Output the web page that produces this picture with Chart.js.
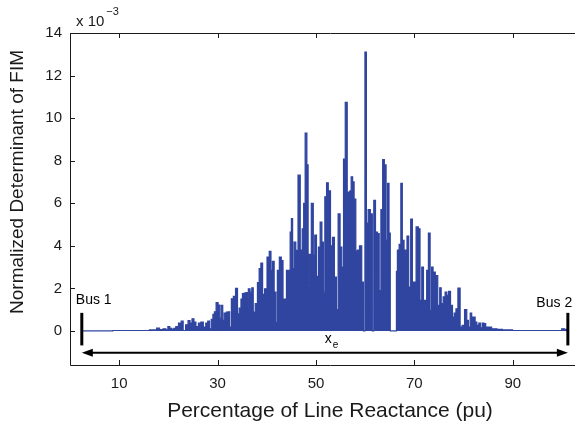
<!DOCTYPE html>
<html><head><meta charset="utf-8">
<script src="https://cdn.jsdelivr.net/npm/chart.js@4"></script>
<style>html,body{margin:0;padding:0;background:#fff;overflow:hidden;width:575px;height:427px}canvas{display:block}</style>
</head><body>
<canvas id="c" width="592" height="427" style="width:592px;height:427px"></canvas>
<script>
// Percentage of line reactance (x) and normalized determinant of FIM (values in units of 1e-3)
const xPercent = [2.4,15,17.3,17.9,18.5,19.3,19.7,20.1,20.5,20.9,21.3,21.7,22.4,22.8,23.2,23.8,24.2,24.6,25.0,25.4,25.8,26.4,26.8,27.4,27.8,28.2,28.5,28.9,29.2,29.5,29.9,30.3,30.6,30.9,31.2,31.5,32.0,32.3,32.6,33.0,33.4,33.9,34.2,34.6,34.9,35.2,35.6,35.9,36.1,36.4,36.8,37.1,37.4,37.9,38.3,38.6,39.0,39.3,39.8,40.3,40.7,41.0,41.3,41.7,42.0,42.3,42.8,43.1,43.5,43.8,44.2,44.6,44.9,45.1,45.4,45.7,46.1,46.6,47.0,47.4,47.6,48.0,48.3,48.5,48.8,49.3,49.6,49.9,50.3,50.7,51.0,51.4,51.6,52.0,52.3,52.7,53.2,53.5,54.0,54.3,54.7,55.1,55.4,55.8,56.1,56.6,56.8,57.0,57.3,57.6,57.9,58.3,58.6,59.1,59.5,59.8,60.1,60.4,60.8,61.3,61.6,61.9,62.3,62.7,63.0,63.4,63.7,64.1,64.4,64.7,65.0,65.2,66.3,66.4,66.7,67.1,67.4,67.7,68.1,68.4,68.6,69.1,69.4,69.8,70.1,70.6,71.0,71.3,71.7,72.0,72.3,72.7,73.0,73.4,73.6,74.0,74.5,75.0,75.3,75.6,76.1,76.4,76.8,77.1,77.6,77.9,78.3,78.6,79.1,79.5,79.9,80.5,80.8,81.2,81.5,81.8,82.2,82.5,82.9,83.3,83.7,84.0,84.3,84.7,85.2,86.2,87.4,88.4,91.5,99.6,100.3,100.7,101.2];
const fimDet = [0,0.02,0.05,0.13,0.06,0.1,0.05,0.2,0.12,0.07,0.12,0.2,0.37,0.46,0.02,0.29,0.49,0.37,0.57,0.42,0.2,0.37,0.42,0.18,0.37,0.46,0.1,0.55,0.78,0.9,1.33,1.22,0.6,1.2,0.5,0.84,0.89,0.9,0.18,1.51,1.62,2.0,0.8,1.07,1.5,1.75,1.78,1.8,1.04,1.98,1.82,2.03,0.89,1.28,2.27,2.93,3.19,1.72,1.98,3.47,3.74,2.85,3.27,1.83,0.4,2.85,3.47,3.3,1.5,1.5,2.85,2.85,4.65,5.28,2.93,4.18,3.79,7.32,3.8,4.8,6.0,9.3,7.8,1.9,3.6,6.0,3.55,4.5,2.56,3.94,5.12,4.18,1.82,6.3,6.96,6.58,4.0,4.4,2.53,1.0,5.5,3.94,3.0,8.07,10.74,6.53,4.9,6.58,7.24,7.0,6.2,3.76,3.8,4.0,2.3,0,13.1,5.07,5.7,5.5,0,6.14,4.65,4.57,1.9,5.7,8.05,7.8,4.26,6.93,4.6,0,0,2.8,3.8,4.07,6.93,4.26,3.8,3.7,4.46,2.06,5.25,2.3,2.3,4.89,4.8,1.44,3.0,1.44,1.44,2.85,4.6,0.96,3.0,2.77,2.6,1.2,2.03,1.28,1.6,1.83,1.67,1.86,1.2,0.65,0.84,1.04,2.01,0.18,0.26,1.0,0.5,0.18,0.84,0.65,0.65,0.42,0.26,0.37,0.15,0.37,0.34,0.18,0.18,0.1,0.07,0.05,0.02,0.02,0.1,0.08,0];
const xTickValues = [10,30,50,70,90];
const yTickValues = [0,2,4,6,8,10,12,14];
const busPositions = [2.4,101.2];
const busLabels = ['Bus 1','Bus 2'];
const xRange = [0,105.7];
const yRange = [-1.6,14];
const yTitle = 'Normalized Determinant of FIM';
const xTitle = 'Percentage of Line Reactance (pu)';

const FONT = '"Liberation Sans", Arial, Helvetica, sans-serif';
const INK = '#1a1a1a';
const points = xPercent.map((x,i)=>({x:x,y:fimDet[i]}));

const decor = {
  id:'decor',
  afterDraw(chart){
    const ctx = chart.ctx, ca = chart.chartArea, sx = chart.scales.x, sy = chart.scales.y;
    ctx.save();
    ctx.strokeStyle = INK; ctx.lineWidth = 1;
    ctx.beginPath();
    ctx.moveTo(ca.left+0.5, ca.bottom+0.5); ctx.lineTo(ca.left+0.5, ca.top+0.5); ctx.lineTo(ca.right+0.5, ca.top+0.5);
    ctx.moveTo(ca.left+0.5, ca.bottom+0.5); ctx.lineTo(ca.right+0.5, ca.bottom+0.5); ctx.lineTo(ca.right+0.5, ca.top+0.5);
    xTickValues.forEach(v=>{const p=Math.round(sx.getPixelForValue(v))+0.5; ctx.moveTo(p,ca.bottom); ctx.lineTo(p,ca.bottom-5); ctx.moveTo(p,ca.top); ctx.lineTo(p,ca.top+5);});
    yTickValues.forEach(v=>{const p=Math.round(sy.getPixelForValue(v))+0.5; ctx.moveTo(ca.left,p); ctx.lineTo(ca.left+5,p); ctx.moveTo(ca.right,p); ctx.lineTo(ca.right-5,p);});
    ctx.stroke();
    // y axis title
    ctx.fillStyle = INK;
    ctx.save();
    ctx.translate(18, 182); ctx.rotate(-Math.PI/2);
    ctx.font = '19px '+FONT; ctx.textAlign='center'; ctx.textBaseline='middle';
    ctx.fillText(yTitle, 0, 0);
    ctx.restore();
    // exponent label
    ctx.textBaseline='alphabetic'; ctx.textAlign='left';
    ctx.font = '15px '+FONT;
    ctx.fillText('x 10', ca.left+6, ca.top-7);
    const w = ctx.measureText('x 10').width;
    ctx.font = '11px '+FONT;
    ctx.fillText('\u22123', ca.left+6+w+2, ca.top-18);
    // bus markers
    ctx.fillStyle = '#000'; ctx.strokeStyle = '#000';
    ctx.lineWidth = 3;
    const yTop = sy.getPixelForValue(0.85), yBot = sy.getPixelForValue(-0.68);
    busPositions.forEach(b=>{const p=sx.getPixelForValue(b); ctx.beginPath(); ctx.moveTo(p,yTop); ctx.lineTo(p,yBot); ctx.stroke();});
    ctx.font = '14px '+FONT;
    const b1 = sx.getPixelForValue(busPositions[0]), b2 = sx.getPixelForValue(busPositions[1]);
    ctx.fillText(busLabels[0], b1-6, sy.getPixelForValue(1.25));
    ctx.fillText(busLabels[1], b2-31.5, sy.getPixelForValue(1.12));
    // double arrow
    const ya = sy.getPixelForValue(-1.03);
    ctx.lineWidth = 2;
    ctx.beginPath(); ctx.moveTo(b1+8, ya); ctx.lineTo(b2-8, ya); ctx.stroke();
    ctx.beginPath(); ctx.moveTo(b1, ya); ctx.lineTo(b1+11, ya-4); ctx.lineTo(b1+11, ya+4); ctx.closePath(); ctx.fill();
    ctx.beginPath(); ctx.moveTo(b2, ya); ctx.lineTo(b2-11, ya-4); ctx.lineTo(b2-11, ya+4); ctx.closePath(); ctx.fill();
    // x_e
    const xm = sx.getPixelForValue((busPositions[0]+busPositions[1])/2);
    ctx.font = '14px '+FONT;
    ctx.fillText('x', xm, sy.getPixelForValue(-0.55));
    ctx.font = '10px '+FONT;
    ctx.fillText('e', xm+8, sy.getPixelForValue(-0.8));
    ctx.restore();
  }
};

new Chart(document.getElementById('c'), {
  type:'line',
  data:{datasets:[{data:points, stepped:'middle', fill:'origin', backgroundColor:'#3045a0', borderColor:'#3045a0', borderWidth:1.2, pointRadius:0, tension:0}]},
  options:{
    responsive:false, animation:false, devicePixelRatio:1,
    layout:{padding:{top:33,right:2,left:0,bottom:0}},
    plugins:{legend:{display:false}, tooltip:{enabled:false}},
    scales:{
      x:{type:'linear', min:xRange[0], max:xRange[1],
        afterBuildTicks(s){s.ticks = xTickValues.map(v=>({value:v}));},
        afterFit(s){s.height = 62;},
        grid:{display:false, drawTicks:false}, border:{display:false},
        ticks:{padding:10, color:INK, font:{family:FONT, size:15}, maxRotation:0, autoSkip:false},
        title:{display:true, text:xTitle, color:INK, font:{family:FONT, size:21}, padding:{top:0,bottom:3}}
      },
      y:{type:'linear', min:yRange[0], max:yRange[1],
        afterBuildTicks(s){s.ticks = yTickValues.map(v=>({value:v}));},
        afterFit(s){s.width = 70;},
        grid:{display:false, drawTicks:false}, border:{display:false},
        ticks:{padding:8, color:INK, font:{family:FONT, size:15}},
        title:{display:false}
      }
    }
  },
  plugins:[decor]
});
</script>
</body></html>
